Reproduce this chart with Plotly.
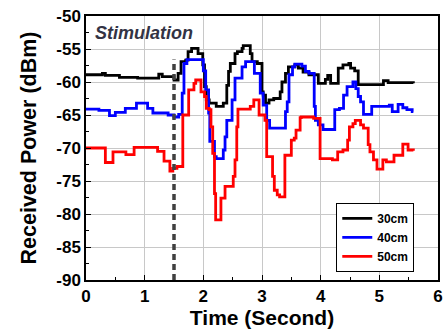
import plotly.graph_objects as go

# ---- data ----
t30 = [0, 0.28, 0.33, 0.57, 0.88, 1.24, 1.30, 1.50, 1.57, 1.62, 1.70, 1.74, 1.80, 1.91, 1.99, 2.02,
       2.05, 2.10, 2.22, 2.34, 2.40, 2.43, 2.46, 2.54, 2.58, 2.66, 2.68, 2.80, 2.83, 2.92, 3.00, 3.02,
       3.06, 3.12, 3.20, 3.31, 3.34, 3.40, 3.45, 3.56, 3.62, 3.70, 3.80, 3.96, 4.08, 4.12, 4.17, 4.25,
       4.30, 4.38, 4.48, 4.51, 4.58, 4.64, 5.07, 5.15, 5.58]
p30 = [-58.9, -58.7, -59.0, -59.3, -59.4, -58.8, -59.2, -59.7, -58.7, -56.9, -56.7, -55.4, -54.9, -55.7, -57.4, -60.7,
       -62.7, -63.2, -63.7, -63.2, -60.5, -58.4, -57.2, -55.7, -55.4, -54.9, -54.5, -55.7, -56.9, -57.2, -61.5, -62.0,
       -63.2, -62.7, -62.5, -61.5, -60.0, -58.7, -57.7, -57.4, -57.9, -58.5, -58.9, -60.2, -59.6, -59.0, -60.2, -60.2,
       -57.9, -57.4, -57.2, -57.9, -58.3, -60.4, -59.8, -60.1, -60.2]

t40 = [0, 0.22, 0.40, 0.50, 0.67, 0.86, 1.05, 1.14, 1.40, 1.50, 1.58, 1.64, 1.67, 1.72, 2.00, 2.04,
       2.09, 2.11, 2.19, 2.22, 2.34, 2.37, 2.40, 2.49, 2.54, 2.66, 2.72, 2.87, 2.97, 3.02, 3.08, 3.13,
       3.40, 3.43, 3.46, 3.52, 3.56, 3.68, 3.74, 3.80, 3.89, 3.91, 3.96, 4.04, 4.24, 4.32, 4.39, 4.45,
       4.55, 4.60, 4.64, 4.68, 4.73, 4.87, 5.17, 5.22, 5.32, 5.40, 5.47, 5.56, 5.58]
p40 = [-64.1, -64.3, -65.1, -64.6, -64.0, -63.2, -64.0, -64.7, -65.0, -65.3, -64.9, -61.7, -57.2, -56.6, -58.3, -61.2,
       -64.7, -69.0, -71.3, -71.6, -70.3, -68.3, -65.8, -62.7, -59.4, -57.7, -56.9, -58.7, -61.7, -63.5, -65.8, -67.0,
       -64.5, -63.0, -58.9, -57.7, -57.3, -57.6, -58.4, -58.7, -63.7, -65.8, -66.5, -67.2, -64.2, -64.0, -62.0, -60.7,
       -60.0, -61.0, -62.2, -63.0, -64.9, -63.7, -63.5, -64.5, -63.4, -63.9, -64.2, -64.5, -64.5]

t50 = [0, 0.33, 0.46, 0.68, 0.82, 1.22, 1.33, 1.43, 1.48, 1.55, 1.65, 1.75, 1.84, 1.87, 1.96, 2.02,
       2.05, 2.10, 2.13, 2.16, 2.19, 2.21, 2.30, 2.37, 2.51, 2.54, 2.57, 2.59, 2.80, 2.86, 2.95, 3.05,
       3.08, 3.18, 3.21, 3.26, 3.30, 3.39, 3.50, 3.55, 3.58, 3.65, 3.67, 3.88, 3.99, 4.20, 4.29, 4.38,
       4.46, 4.49, 4.55, 4.59, 4.68, 4.73, 4.81, 4.84, 4.90, 4.96, 5.06, 5.12, 5.25, 5.40, 5.49, 5.58]
p50 = [-70.0, -72.2, -70.6, -71.0, -69.9, -70.5, -72.0, -73.5, -73.1, -72.8, -65.0, -61.2, -60.2, -59.7, -61.5, -62.2,
       -64.0, -64.2, -66.8, -70.8, -76.9, -80.9, -77.6, -75.8, -74.3, -71.8, -66.8, -64.1, -63.7, -62.7, -65.0, -65.8,
       -71.3, -74.3, -76.4, -77.1, -77.4, -71.1, -68.8, -68.5, -67.3, -65.4, -65.3, -65.5, -71.6, -71.8, -70.6, -70.3,
       -68.8, -66.8, -66.3, -65.8, -66.5, -67.0, -69.5, -70.6, -71.8, -73.2, -71.8, -72.1, -71.1, -69.4, -70.3, -70.4]

series_names = ["30cm", "40cm", "50cm"]
series_colors = ["#000000", "#0000ff", "#ff0000"]

stim_time = 1.5
stim_top = -56.6
stim_label = "Stimulation"

x_ticks = [0, 1, 2, 3, 4, 5, 6]
x_ticktext = ["0", "1", "2", "3", "4", "5", "6"]
y_ticks = [-50, -55, -60, -65, -70, -75, -80, -85, -90]
y_ticktext = ["-50", "-55", "-60", "-65", "-70", "-75", "-80", "-85", "-90"]

FONT = "Liberation Sans, Arial, sans-serif"

fig = go.Figure()
for t, p, name, col in zip([t30, t40, t50], [p30, p40, p50], series_names, series_colors):
    fig.add_trace(go.Scatter(x=t, y=p, mode="lines", name="<b>" + name + "</b>",
                             line=dict(color=col, width=2.8, shape="hv")))

fig.add_shape(type="line", xref="x", yref="y", x0=stim_time, x1=stim_time,
              y0=-90, y1=stim_top,
              line=dict(color="#404040", width=3.5, dash="6px,4px"))

fig.add_annotation(x=0.12, y=-52.6, xref="x", yref="y", text="<b><i>" + stim_label + "</i></b>",
                   showarrow=False, xanchor="left", yanchor="middle",
                   font=dict(family=FONT, size=18, color="#333344"))

axis_common = dict(showline=True, linecolor="black", linewidth=1.5, mirror=True,
                   showgrid=True, gridcolor="#c8c8c8", gridwidth=1,
                   ticks="inside", ticklen=5, tickcolor="black", tickwidth=1.2,
                   zeroline=False, automargin=False,
                   tickfont=dict(family=FONT, size=17, color="black"))

fig.update_xaxes(range=[0, 6], tickvals=x_ticks, ticktext=["<b>" + s + "</b>" for s in x_ticktext],
                 minor=dict(dtick=0.5, ticks="inside", ticklen=3, tickcolor="black", showgrid=False),
                 title=dict(text="<b>Time (Second)</b>", font=dict(family=FONT, size=21, color="black"),
                            standoff=4),
                 **axis_common)
fig.update_yaxes(range=[-90, -50], tickvals=y_ticks, ticktext=["<b>" + s + "</b>" for s in y_ticktext],
                 minor=dict(dtick=2.5, ticks="inside", ticklen=3, tickcolor="black", showgrid=False),
                 title=dict(text="<b>Received Power (dBm)</b>", font=dict(family=FONT, size=21.5, color="black"),
                            standoff=14),
                 **axis_common)

fig.update_layout(
    width=444, height=331,
    margin=dict(l=86, r=6, t=16, b=51),
    paper_bgcolor="white", plot_bgcolor="white",
    font=dict(family=FONT, color="black"),
    legend=dict(x=0.711, y=0.292, xanchor="left", yanchor="top",
                bgcolor="white", bordercolor="black", borderwidth=1,
                font=dict(family=FONT, size=12, color="black"),
                tracegroupgap=0, itemwidth=30),
)

fig.write_html("out.html")
